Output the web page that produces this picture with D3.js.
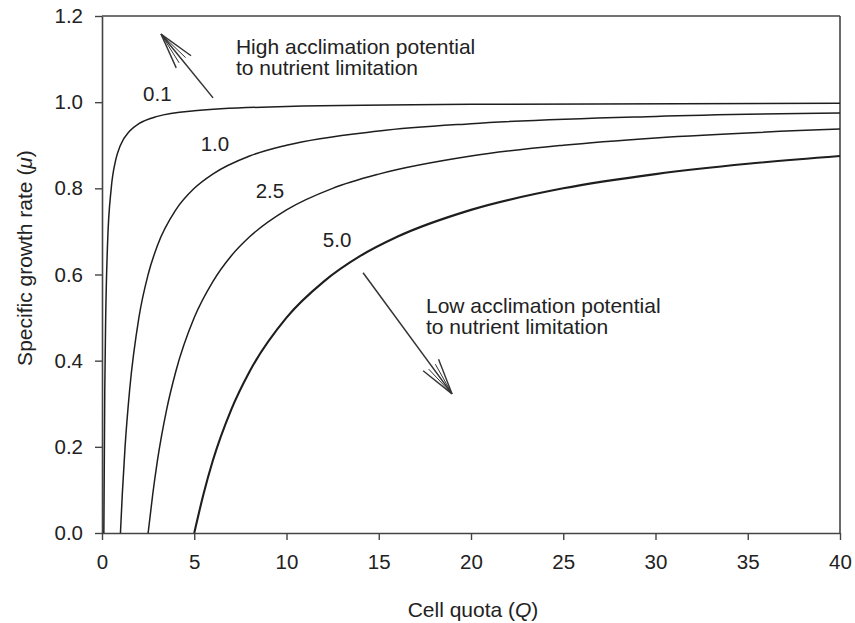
<!DOCTYPE html>
<html>
<head>
<meta charset="utf-8">
<script src="https://cdn.jsdelivr.net/npm/d3@7"></script>
<style>
  html, body { margin: 0; padding: 0; background: #fff; }
  svg { display: block; font-family: "Liberation Sans", Arial, Helvetica, sans-serif; }
</style>
</head>
<body>
<svg id="chart" width="855" height="623"></svg>
<script>
// Droop-type growth curves: specific growth rate vs. cell quota,
// one curve per minimum quota (Q0).
const curveLabels = ["0.1", "1.0", "2.5", "5.0"];

const quotaQ01 = [0.1, 0.15, 0.2, 0.3, 0.5, 0.75, 1, 1.5, 2, 3, 5, 10, 20, 40];
const growthQ01 = [0, 0.33, 0.5, 0.67, 0.8, 0.867, 0.9, 0.933, 0.95, 0.967, 0.98, 0.99, 0.995, 0.9975];

const quotaQ10 = [1, 1.1, 1.25, 1.5, 2, 2.5, 3, 4, 5, 6, 8, 10, 15, 20, 30, 40];
const growthQ10 = [0, 0.09, 0.2, 0.333, 0.5, 0.6, 0.667, 0.75, 0.8, 0.833, 0.875, 0.9, 0.933, 0.95, 0.967, 0.975];

const quotaQ25 = [2.5, 2.75, 3, 3.5, 4, 5, 6, 7, 8, 10, 12.5, 15, 20, 25, 30, 40];
const growthQ25 = [0, 0.09, 0.167, 0.286, 0.375, 0.5, 0.583, 0.643, 0.6875, 0.75, 0.8, 0.833, 0.875, 0.9, 0.917, 0.9375];

const quotaQ50 = [5, 5.5, 6, 7, 8, 10, 12, 14, 16, 20, 25, 30, 35, 40];
const growthQ50 = [0, 0.09, 0.167, 0.286, 0.375, 0.5, 0.583, 0.643, 0.6875, 0.75, 0.8, 0.833, 0.857, 0.875];

const xTicks = [0, 5, 10, 15, 20, 25, 30, 35, 40];
const yTicks = [0, 0.2, 0.4, 0.6, 0.8, 1.0, 1.2];

const svg = d3.select("#chart");
const margin = { left: 102, right: 15, top: 16, bottom: 90 };
const W = 855, H = 623;
const ink = "#222";

const x = d3.scaleLinear().domain([0, 40]).range([margin.left, W - margin.right]);
const y = d3.scaleLinear().domain([0, 1.2]).range([H - margin.bottom, margin.top]);

const series = [
  { label: curveLabels[0], q: quotaQ01, mu: growthQ01, width: 1.5, lx: 3.0, ly: 1.021 },
  { label: curveLabels[1], q: quotaQ10, mu: growthQ10, width: 1.5, lx: 6.12, ly: 0.905 },
  { label: curveLabels[2], q: quotaQ25, mu: growthQ25, width: 1.5, lx: 9.1, ly: 0.794 },
  { label: curveLabels[3], q: quotaQ50, mu: growthQ50, width: 2.1, lx: 12.74, ly: 0.682 }
];

// axes
const xAxis = d3.axisBottom(x).tickValues(xTicks).tickFormat(d3.format("d")).tickSizeOuter(0).tickSizeInner(7).tickPadding(14);
const yAxis = d3.axisLeft(y).tickValues(yTicks).tickFormat(d3.format(".1f")).tickSizeOuter(0).tickSizeInner(7).tickPadding(12);

const gx = svg.append("g").attr("transform", `translate(0,${y(0)})`).call(xAxis);
const gy = svg.append("g").attr("transform", `translate(${x(0)},0)`).call(yAxis);
[gx, gy].forEach(g => {
  g.select(".domain").attr("stroke", "#444").attr("stroke-width", 1.6);
  g.selectAll(".tick line").attr("stroke", "#444").attr("stroke-width", 1.4);
  g.selectAll(".tick text").attr("fill", ink).attr("font-size", 20.5).attr("font-family", "Liberation Sans, Arial, sans-serif");
});

// frame top and right
svg.append("line").attr("x1", x(0)).attr("x2", x(40)).attr("y1", y(1.2)).attr("y2", y(1.2))
  .attr("stroke", "#444").attr("stroke-width", 1.6);
svg.append("line").attr("x1", x(40)).attr("x2", x(40)).attr("y1", y(1.2)).attr("y2", y(0))
  .attr("stroke", "#444").attr("stroke-width", 1.6);

// curves
const line = d3.line().x(d => x(d[0])).y(d => y(d[1])).curve(d3.curveMonotoneX);
series.forEach(s => {
  const pts = s.q.map((q, i) => [q, s.mu[i]]);
  svg.append("path").datum(pts).attr("d", line)
    .attr("fill", "none").attr("stroke", "#1e1e1e").attr("stroke-width", s.width);
  svg.append("text").attr("x", x(s.lx)).attr("y", y(s.ly))
    .attr("text-anchor", "middle").attr("dominant-baseline", "central")
    .attr("font-size", 20.5).attr("fill", ink).text(s.label);
});

// arrows with open heads
function arrow(q0, m0, q1, m1) {
  const x0 = x(q0), y0 = y(m0), x1 = x(q1), y1 = y(m1);
  const g = svg.append("g").attr("stroke", "#333").attr("fill", "none").attr("stroke-width", 1.5);
  g.append("line").attr("x1", x0).attr("y1", y0).attr("x2", x1).attr("y2", y1);
  const ang = Math.atan2(y0 - y1, x0 - x1);
  [[15, 37], [-15, 37], [7, 34], [-7, 34]].forEach(([deg, len]) => {
    const a = ang + deg * Math.PI / 180;
    g.append("line").attr("x1", x1).attr("y1", y1)
      .attr("x2", x1 + len * Math.cos(a)).attr("y2", y1 + len * Math.sin(a))
      .attr("stroke-width", Math.abs(deg) < 10 ? 1 : 1.4);
  });
}
arrow(6.02, 1.01, 3.2, 1.158);
arrow(14.15, 0.604, 18.97, 0.323);

// annotation text
function note(q, m, lines) {
  const t = svg.append("text").attr("x", x(q)).attr("y", y(m))
    .attr("font-size", 21).attr("fill", ink);
  lines.forEach((s, i) => t.append("tspan").attr("x", x(q)).attr("dy", i === 0 ? 0 : 21.5).text(s));
}
note(7.26, 1.112, ["High acclimation potential", "to nutrient limitation"]);
note(17.56, 0.511, ["Low acclimation potential", "to nutrient limitation"]);

// axis titles
const xt = svg.append("text").attr("x", (x(0) + x(40)) / 2 + 2).attr("y", 617)
  .attr("text-anchor", "middle").attr("font-size", 21).attr("fill", ink);
xt.append("tspan").text("Cell quota (");
xt.append("tspan").attr("font-style", "italic").text("Q");
xt.append("tspan").text(")");

const yt = svg.append("text").attr("transform", `translate(32,258) rotate(-90)`)
  .attr("text-anchor", "middle").attr("font-size", 21).attr("fill", ink);
yt.append("tspan").text("Specific growth rate (");
yt.append("tspan").attr("font-style", "italic").text("μ");
yt.append("tspan").text(")");
</script>
</body>
</html>
